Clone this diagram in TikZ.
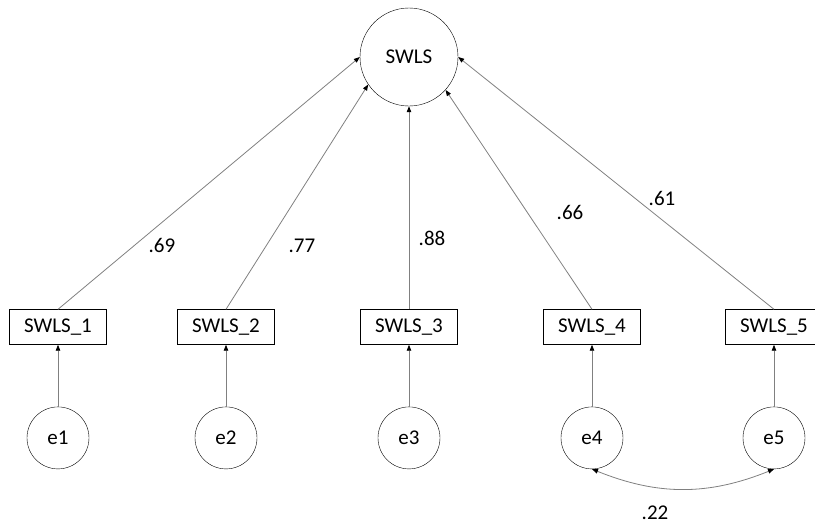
\documentclass[tikz,border=0pt]{standalone}
\usepackage{fontspec}
\setmainfont{Carlito}
\usepackage{tikz}
\usetikzlibrary{positioning, arrows.meta, shapes}

\begin{document}
\begin{tikzpicture}[
    x=1pt, y=-1pt,
    node distance=62pt,
    font=\fontsize{21}{24}\selectfont,
    latent/.style={circle, draw, minimum size=98pt, inner sep=0pt},
    obs/.style={rectangle, draw, minimum width=97pt, minimum height=35pt, inner sep=0pt},
    err/.style={circle, draw, minimum size=62pt, inner sep=0pt},
    arrow/.style={-{Triangle[length=6pt,width=4.5pt,color=black]}, draw=black!50, line width=0.8pt},
    coef/.style={inner sep=1pt}
]
\useasboundingbox (0,0) rectangle (815,528);

\node[latent] (swls) at (409,57) {SWLS};

\node[obs] (item1) at (58,327) {SWLS\_1};
\node[obs] (item2) at (226,327) {SWLS\_2};
\node[obs] (item3) at (409,327) {SWLS\_3};
\node[obs] (item4) at (592,327) {SWLS\_4};
\node[obs] (item5) at (774,327) {SWLS\_5};

\node[err, below=of item1] (e1) {e1};
\node[err, below=of item2] (e2) {e2};
\node[err, below=of item3] (e3) {e3};
\node[err, below=of item4] (e4) {e4};
\node[err, below=of item5] (e5) {e5};

\draw[arrow] (item1.north) -- (swls.west);
\draw[arrow] (item2.north) -- (swls.214);
\draw[arrow] (item3.north) -- (swls.south);
\draw[arrow] (item4.north) -- (swls.318);
\draw[arrow] (item5.north) -- (swls.east);

\draw[arrow] (e1) -- (item1);
\draw[arrow] (e2) -- (item2);
\draw[arrow] (e3) -- (item3);
\draw[arrow] (e4) -- (item4);
\draw[arrow] (e5) -- (item5);

\draw[arrow, {Triangle[length=6pt,width=4.5pt,color=black]}-{Triangle[length=6pt,width=4.5pt,color=black]}] (e4.south) to[bend right=22] (e5.south);

\node[coef] (c1) at (162,245) {.69};
\node[coef] (c2) at (302,246) {.77};
\node[coef] (c3) at (432,238) {.88};
\node[coef] (c4) at (570,212) {.66};
\node[coef] (c5) at (662,198) {.61};
\node[coef] (c45) at (655,513) {.22};
\end{tikzpicture}
\end{document}
